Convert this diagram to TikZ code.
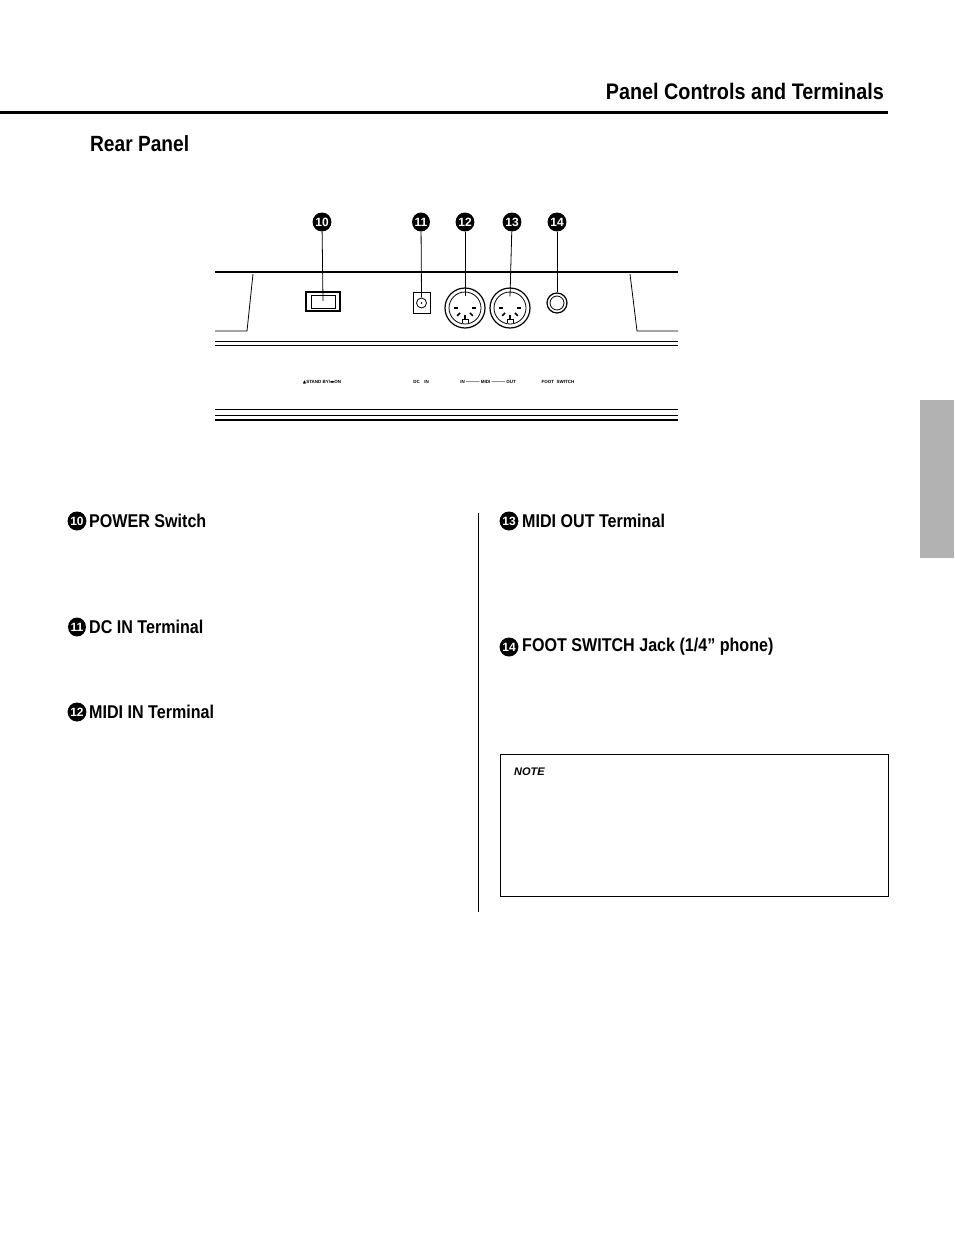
\documentclass[tikz,border=0pt]{standalone}
\usepackage{fontspec}
\usetikzlibrary{shapes.geometric}
\setmainfont{Liberation Sans}
\newfontfamily\dv{DejaVu Sans}
\begin{document}
\begin{tikzpicture}[x=1pt,y=-1pt,
  hd/.style={font=\bfseries\fontsize{18.5}{20}\selectfont, inner sep=0pt, anchor=west, xscale=0.87, transform shape},
  cn/.style={ellipse, fill=black, text=white, inner sep=0pt, minimum width=15pt, minimum height=19pt, font=\bfseries\fontsize{12}{12}\selectfont},
  tiny/.style={font=\bfseries\fontsize{4.5}{5}\selectfont, inner sep=0pt},
  ln/.style={line width=0.8pt}]
\useasboundingbox (0,0) rectangle (954,1244);
\node[font=\bfseries\fontsize{22.5}{24}\selectfont, inner sep=0pt, anchor=east, xscale=0.88, transform shape] (title) at (884,91) {Panel Controls and Terminals};
\draw[line width=3pt] (0,113) -- (888,113);
\node[hd, font=\bfseries\fontsize{22}{24}\selectfont] (rear) at (90,144) {Rear Panel};
\fill[black!30] (920,400) rectangle (954,558);
% panel
\draw[line width=2pt] (215,272) -- (678,272);
\draw[ln] (253,274) -- (247,331) -- (215,331);
\draw[ln] (630,274) -- (637,331) -- (678,331);
\draw[ln] (215,341) -- (678,341);
\draw[ln] (215,345) -- (678,345);
\draw[ln] (215,409) -- (678,409);
\draw[ln] (215,415) -- (678,415);
\draw[line width=2pt] (215,420) -- (678,420);
% components
\draw[line width=1.2pt] (306,292) rectangle (340,311);
\draw[ln] (311,295) rectangle (335,308);
\node[inner sep=0pt] (sw) at (323,301.5) {};
\draw[ln] (413,292) rectangle (430,313);
\draw[ln] (421.5,303) circle (5);
\fill (421.5,303) circle (0.8);
\node[inner sep=0pt] (dc) at (421.5,298) {};
\foreach \c/\n in {465/mi,510/mo}{
  \draw[line width=1.2pt] (\c,308) circle (20);
  \draw[ln] (\c,308) circle (16);
  \foreach \a in {90,135,45,180,0}{\draw[line width=1.5pt] (\c,308) ++(\a:7) -- ++(\a:4);}
  \draw (\c-3,323) -- (\c-3,319) -- (\c+3,319) -- (\c+3,323);
  \node[inner sep=0pt] (\n) at (\c,297) {};
}
\draw[line width=1.2pt] (557,303) circle (10);
\draw[ln] (557,303) circle (7);
\node[inner sep=0pt] (fs) at (557,293) {};
% numbers
\node[cn] (n10) at (322,222) {10};
\node[cn] (n11) at (421,222) {11};
\node[cn] (n12) at (465,222) {12};
\node[cn] (n13) at (512,222) {13};
\node[cn] (n14) at (557,222) {14};
\draw[ln] (n10) -- (sw);
\draw[ln] (n11) -- (dc);
\draw[ln] (n12) -- (mi);
\draw[ln] (n13) -- (mo);
\draw[ln] (n14) -- (fs);
% labels
\node[tiny] (l1) at (322,382) {{\dv▲}STAND BY/{\dv▬}ON};
\node[tiny] (l2) at (421,382) {DC\quad IN};
\node[tiny] (l3) at (488,382) {IN ——— MIDI ——— OUT};
\node[tiny] (l4) at (558,382) {FOOT\ \ SWITCH};
% sections
\node[cn] (c10) at (77,521) {10};
\node[hd] (s10) at (89,521) {POWER Switch};
\node[cn] (c11) at (77,627) {11};
\node[hd] (s11) at (89,627) {DC IN Terminal};
\node[cn] (c12) at (77,712) {12};
\node[hd] (s12) at (89,712) {MIDI IN Terminal};
\node[cn] (c13) at (509,521) {13};
\node[hd] (s13) at (522,521) {MIDI OUT Terminal};
\node[cn] (c14) at (509,647) {14};
\node[hd] (s14) at (522,647) {FOOT SWITCH Jack (1/4” phone)};
\draw[ln] (478,513) -- (478,912);
\draw[ln] (500,754) rectangle (888,896);
\node[font=\bfseries\itshape\fontsize{11}{12}\selectfont, inner sep=0pt, anchor=west] (note) at (514,772) {NOTE};
\end{tikzpicture}
\end{document}
